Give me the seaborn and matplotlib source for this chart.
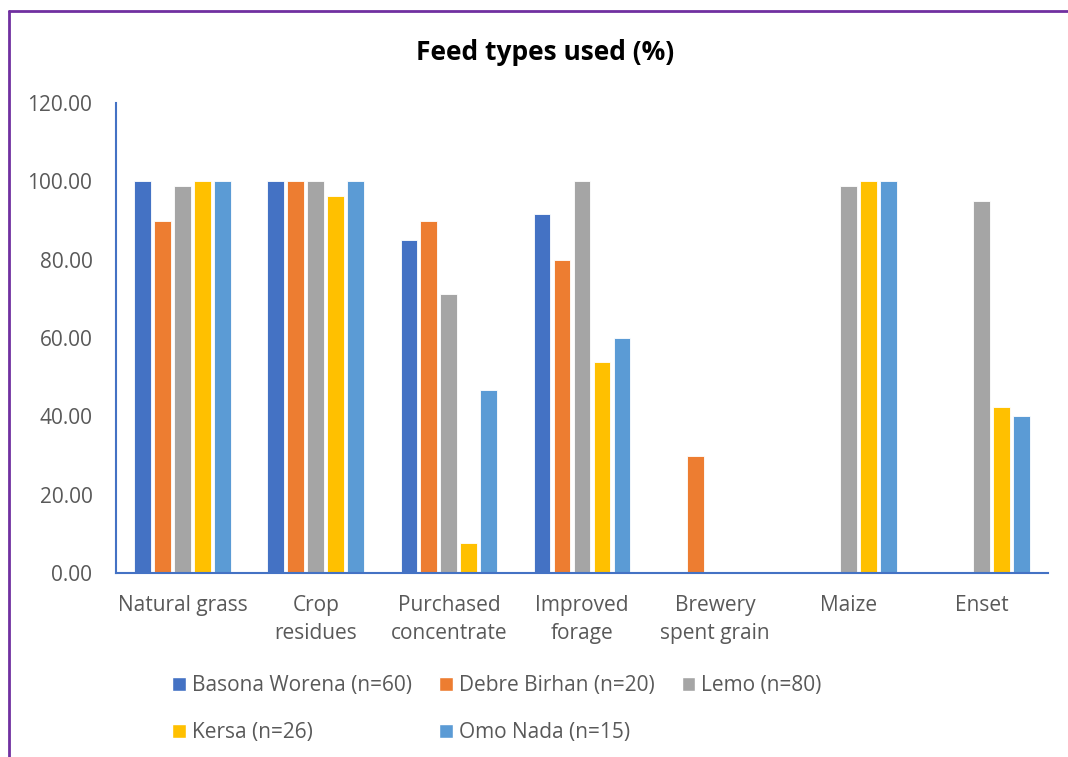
import pandas as pd
import matplotlib.pyplot as plt
import seaborn as sns
from matplotlib.lines import Line2D
from matplotlib.patches import Patch

categories = ['Natural grass', 'Crop\nresidues', 'Purchased\nconcentrate', 'Improved\nforage',
              'Brewery\nspent grain', 'Maize', 'Enset']
sites = ['Basona Worena (n=60)', 'Debre Birhan (n=20)', 'Lemo (n=80)', 'Kersa (n=26)', 'Omo Nada (n=15)']
basona = [100, 100, 85.00, 91.67, 0, 0, 0]
debre = [90.00, 100, 90.00, 80.00, 30.00, 0, 0]
lemo = [98.75, 100, 71.25, 100, 0, 98.75, 95.00]
kersa = [100, 96.15, 7.69, 53.85, 0, 100, 42.31]
omo = [100, 100, 46.67, 60.00, 0, 100, 40.00]
colors = ['#4472C4', '#ED7D31', '#A5A5A5', '#FFC000', '#5B9BD5']

rows = []
for site, vals in zip(sites, [basona, debre, lemo, kersa, omo]):
    for cat, v in zip(categories, vals):
        rows.append({'Feed': cat, 'Site': site, 'Percent': v})
DF = pd.DataFrame(rows)

sns.set_style('white')
plt.rcParams['font.family'] = ['Open Sans', 'DejaVu Sans']

fig = plt.figure(figsize=(10.68, 7.57), dpi=100)
ax = fig.add_axes([116/1068, 1-573/757, (1048-116)/1068, (573-103)/757])
sns.barplot(DF, x='Feed', y='Percent', hue='Site', palette=colors, saturation=1, width=0.75, gap=0.16,
            order=categories, hue_order=sites, ax=ax, legend=False, errorbar=None,
            edgecolor='white', linewidth=0.6)

ax.set_ylim(0, 120)
ax.set_yticks(range(0, 121, 20))
ax.set_yticklabels([f'{v:.2f}' for v in range(0, 121, 20)])
ax.set_xlim(-0.5, 6.5)
ax.set_xlabel('')
ax.set_ylabel('')
for s in ['top', 'right']:
    ax.spines[s].set_visible(False)
for s in ['left', 'bottom']:
    ax.spines[s].set_color('#4472C4')
    ax.spines[s].set_linewidth(1.5)
ax.tick_params(axis='both', length=0, labelsize=15, colors='#595959')
ax.tick_params(axis='y', pad=17)
ax.tick_params(axis='x', pad=16)
for lbl in ax.get_xticklabels():
    lbl.set_linespacing(1.45)

fig.text(545/1068, 1-53/757, 'Feed types used (%)', ha='center', va='center',
         fontsize=19, fontweight='bold', color='black')

# legend laid out row-wise: B D L / K O
order = [0, 3, 1, 4, 2]
handles = [Patch(facecolor=colors[i], label=sites[i]) for i in order]
fig.legend(handles=handles, ncol=3, loc='center', bbox_to_anchor=(497/1068, 1-709/757),
           frameon=False, fontsize=15, handlelength=0.65, handleheight=0.65,
           handletextpad=0.3, columnspacing=1.3, labelspacing=1.25, labelcolor='#595959')

fig.add_artist(Line2D([9/1068, 9/1068], [0, 1-11/757], color='#7030A0', linewidth=2))
fig.add_artist(Line2D([9/1068, 1], [1-11/757, 1-11/757], color='#7030A0', linewidth=2))

fig.savefig('out.png', dpi=100)
